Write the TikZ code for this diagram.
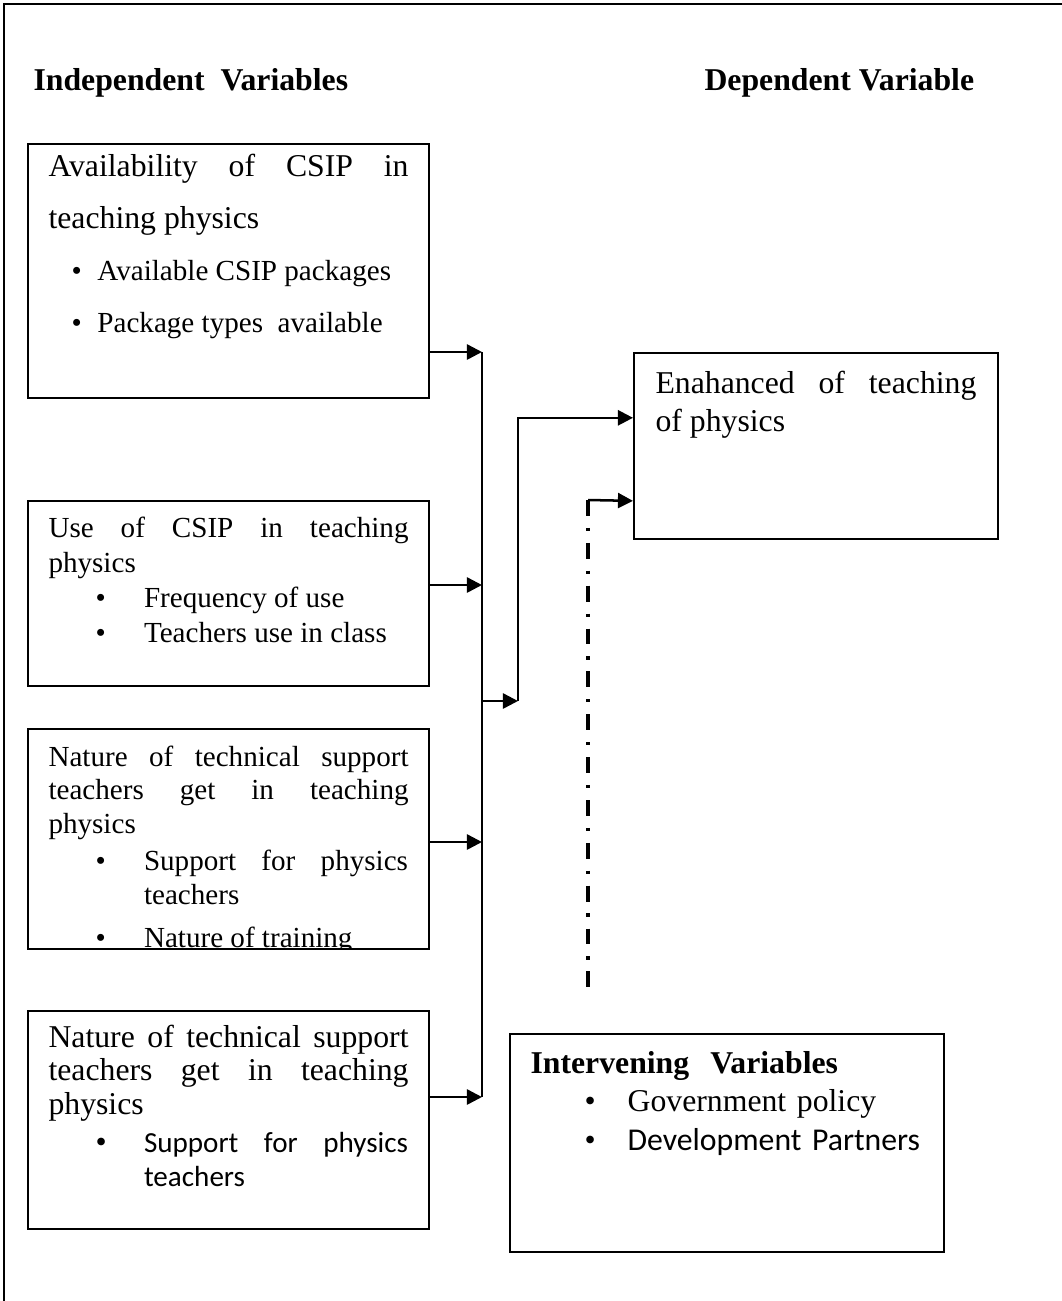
\documentclass[tikz,border=0pt]{standalone}
\usepackage{fontspec}
\setmainfont{Liberation Serif}
\newfontfamily\calibri{Carlito}
\usetikzlibrary{arrows.meta}

% bullet with indent and gap to the item text
\newcommand{\bul}[2]{\hspace*{#1}\makebox[#2][l]{\textbullet}}

\begin{document}
\begin{tikzpicture}[x=0.378pt, y=-0.378pt, % 1 unit = 1 px of the layout
          frame/.style={line width=0.8pt},
          box/.style={draw, line width=0.65pt, anchor=north west, inner sep=0pt, minimum width=151.6pt},
          txt/.style={anchor=base west, inner sep=0pt, text width=136.1pt, align=justify},
          head/.style={anchor=base west, inner sep=0pt, font=\fontsize{12}{14}\selectfont\bfseries},
          conn/.style={line width=0.95pt, -{Triangle[length=5.7pt, width=5.7pt]}},
          bus/.style={line width=0.95pt},
          dashdot/.style={line width=1.6pt, dash pattern=on 6pt off 4.5pt on 1.2pt off 4.5pt}
        ]
        \useasboundingbox (0,0) rectangle (1062,1301);
        % outer frame, left and top only
        \draw[frame] (4,1301) |- (1062,4);

        % Headings
        \node[head] (hind) at (33,90) {Independent\ \ Variables};
        \node[head] (hdep) at (704,90) {Dependent Variable};

        % Boxes
        \node[box, minimum height=96.0pt] (b1) at (27,143) {};
        \node[box, minimum height=69.9pt] (b2) at (27,500) {};
        \node[box, minimum height=83.2pt] (b3) at (27,728) {};
        \node[box, minimum height=82.4pt] (b4) at (27,1010) {};
        \node[box, minimum width=137.6pt, minimum height=70.3pt] (dep) at (633,352) {};
        \node[box, minimum width=164.1pt, minimum height=82.4pt] (iv) at (509,1033) {};

        % Box texts
        \node[txt, font=\fontsize{12}{19.7}\selectfont] (t1) at (48,176)
          {Availability of CSIP in\linebreak teaching physics\par
           \fontsize{11}{19.7}\selectfont
           \bul{8.7pt}{9.8pt}Available CSIP packages\par
           \bul{8.7pt}{9.8pt}Package types\ \ available};
        \node[txt, font=\fontsize{11}{13.3}\selectfont] (t2) at (48,537)
          {Use of CSIP in teaching\linebreak physics\par
           \bul{17.8pt}{18.3pt}Frequency of use\par
           \bul{17.8pt}{18.3pt}Teachers use in class};
        \begin{scope}
          \clip (b3.north west) rectangle (b3.south east);
          \node[txt, font=\fontsize{11}{12.8}\selectfont] (t3) at (48,766)
            {Nature of technical support\linebreak teachers get in teaching\linebreak physics\par
             \vspace{1.1pt}\bul{17.8pt}{18.3pt}\parbox[t]{99.8pt}{Support for physics\linebreak teachers}\par
             \vspace{7.3pt}\bul{17.8pt}{18.3pt}Nature of training};
        \end{scope}
        \node[txt, font=\fontsize{12}{12.8}\selectfont] (t4) at (48,1047)
          {Nature of technical support\linebreak teachers get in teaching\linebreak physics\par
           \vspace{1.5pt}\bul{17.8pt}{18.3pt}\parbox[t]{99.8pt}{\calibri\fontsize{11}{12.8}\selectfont Support for physics\linebreak teachers}};
        \node[txt, text width=121.3pt, font=\fontsize{12}{14.4}\selectfont] (tdep) at (655,393)
          {Enahanced of teaching\linebreak of physics};
        \node[txt, text width=160pt, align=left, font=\fontsize{12}{14.6}\selectfont] (tiv) at (530,1073)
          {\textbf{Intervening\ \ Variables}\par
           \bul{20.4pt}{16.3pt}Government policy\par
           \bul{20.4pt}{16.3pt}{\calibri Development Partners}};

        % Junctions on the bus line
        \coordinate (j1) at (482,352);
        \coordinate (j2) at (482,585);
        \coordinate (j3) at (482,842);
        \coordinate (j4) at (482,1097);
        \coordinate (j5) at (482,701);
        \coordinate (c5) at (518,701);
        \coordinate (dd) at (588,500);
        \coordinate (ddend) at (588,997);

        % Connectors
        \draw[bus] (j1) -- (j4);
        \draw[conn] (b1.east |- j1) -- (j1);
        \draw[conn] (b2.east |- j2) -- (j2);
        \draw[conn] (b3.east |- j3) -- (j3);
        \draw[conn] (b4.east |- j4) -- (j4);
        \draw[conn] (j5) -- (c5);
        \draw[conn] (c5) |- ([yshift=10.6pt]dep.west);
        \draw[conn] (dd) -- ([yshift=-20.8pt]dep.west);
        \draw[dashdot] (dd) -- (ddend);

        \end{tikzpicture}
\end{document}
